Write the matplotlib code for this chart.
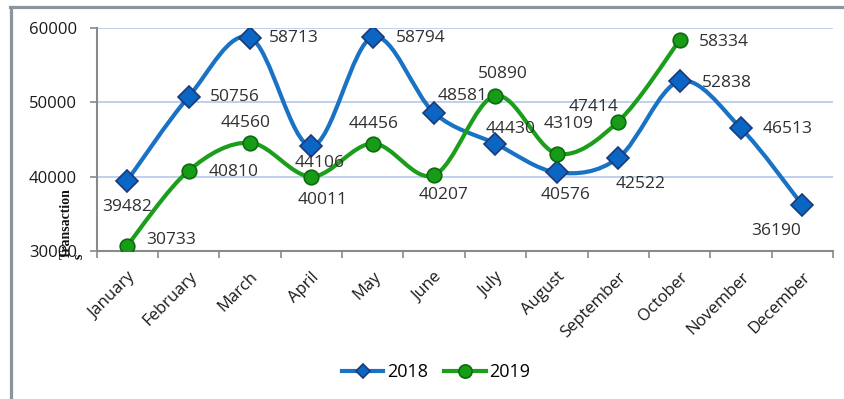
import matplotlib
matplotlib.use("Agg")
import matplotlib.pyplot as plt
import numpy as np
from matplotlib.path import Path
from matplotlib.patches import PathPatch
from matplotlib.lines import Line2D

# data
months = ["January", "February", "March", "April", "May", "June", "July",
          "August", "September", "October", "November", "December"]
tx2018 = [39482, 50756, 58713, 44106, 58794, 48581, 44430, 40576, 42522, 52838, 46513, 36190]
tx2019 = [30733, 40810, 44560, 40011, 44456, 40207, 50890, 43109, 47414, 58334]
y_ticks = [30000, 40000, 50000, 60000]

# label offsets in pixels (dx, dy) for each point
off2018 = [(0, -26), (46, 0), (44, 0), (8, -17), (48, -1), (29, 17), (15, 15),
           (9, -23), (22, -26), (47, -2), (47, -1), (-26, -26)]
off2019 = [(44, 6), (45, -1), (-4, 20), (11, -23), (1, 20), (9, -20), (7, 22),
           (12, 30), (-25, 15), (44, -2)]

BLUE = "#1a72c4"
BLUE_FILL = "#0a66c2"
BLUE_EDGE = "#1c3a78"
GREEN = "#1c9e1c"
GREEN_FILL = "#169c16"
GREEN_EDGE = "#0d6a0d"
FONT = "Open Sans"

W, H = 845, 399
fig = plt.figure(figsize=(W / 100, H / 100), dpi=100)
ax = fig.add_axes([96.6 / W, 1 - 251 / H, (833 - 96.6) / W, (251 - 28) / H])


def smooth_path(xs, ys):
    # catmull-rom style bezier like the spreadsheet "smoothed line"
    pts = np.column_stack([xs, ys]).astype(float)
    n = len(pts)
    verts = [pts[0]]
    codes = [Path.MOVETO]
    for i in range(n - 1):
        p0 = pts[i - 1] if i > 0 else pts[i]
        p1 = pts[i]
        p2 = pts[i + 1]
        p3 = pts[i + 2] if i + 2 < n else pts[i + 1]
        c1 = p1 + (p2 - p0) / 6.0
        c2 = p2 - (p3 - p1) / 6.0
        verts += [c1, c2, p2]
        codes += [Path.CURVE4] * 3
    return Path(verts, codes)


def draw_series(vals, color, fill, edge, marker, ms, offsets):
    xs = np.arange(len(vals))
    ax.add_patch(PathPatch(smooth_path(xs, vals), fill=False, edgecolor=color,
                           lw=3.0, capstyle="round", joinstyle="round", zorder=3))
    ax.plot(xs, vals, linestyle="none", marker=marker, ms=ms, mfc=fill,
            mec=edge, mew=1.2, zorder=4)
    for x, v, (dx, dy) in zip(xs, vals, offsets):
        ax.annotate(str(v), (x, v), xytext=(dx, dy), textcoords="offset pixels",
                    ha="center", va="center", fontsize=12.5, family=FONT,
                    color="#303030", zorder=5)


draw_series(tx2018, BLUE, BLUE_FILL, BLUE_EDGE, "D", 11, off2018)
draw_series(tx2019, GREEN, GREEN_FILL, GREEN_EDGE, "o", 10.5, off2019)

ax.set_xlim(-0.5, len(months) - 0.5)
ax.set_ylim(y_ticks[0], y_ticks[-1])
ax.set_yticks(y_ticks)
ax.set_yticklabels([str(t) for t in y_ticks], family=FONT, fontsize=12, color="#1a1a1a")
ax.tick_params(axis="y", length=5, width=1.2, color="#8a8a8a", pad=9)

ax.set_xticks(np.arange(len(months)))
ax.set_xticklabels(months, rotation=45, ha="right", va="top", rotation_mode="anchor",
                   family=FONT, fontsize=12, color="#1a1a1a")
ax.tick_params(axis="x", which="major", length=0, pad=13)
ax.set_xticks(np.arange(len(months) + 1) - 0.5, minor=True)
ax.tick_params(axis="x", which="minor", length=5, width=1.2, color="#8a8a8a")

ax.grid(axis="y", color="#b4c8ea", lw=1.2)
ax.set_axisbelow(True)
for s in ["top", "right"]:
    ax.spines[s].set_visible(False)
for s in ["left", "bottom"]:
    ax.spines[s].set_color("#8a8a8a")
    ax.spines[s].set_linewidth(1.5)

fig.text(60 / W, 1 - 259 / H, "Transaction\ns", rotation=90, ha="left", va="bottom",
         multialignment="left", family="Liberation Serif", fontweight="bold",
         fontsize=10, linespacing=1.0, color="#111111")

handles = [
    Line2D([], [], color=BLUE, lw=3, marker="D", ms=7, mfc=BLUE_FILL, mec=BLUE_EDGE, mew=1.2),
    Line2D([], [], color=GREEN, lw=3, marker="o", ms=9.5, mfc=GREEN_FILL, mec=GREEN_EDGE, mew=1.2),
]
fig.legend(handles, ["2018", "2019"], loc="center", bbox_to_anchor=(436 / W, 1 - 372 / H),
           ncol=2, frameon=False, handlelength=2.3, handletextpad=0.2, columnspacing=0.9,
           prop={"family": FONT, "size": 13})

# grey frame of the chart box (left and top edges)
fig.add_artist(Line2D([11.5 / W, 11.5 / W], [0, 1 - 6.5 / H], transform=fig.transFigure,
                      color="#8c959f", lw=2.3))
fig.add_artist(Line2D([10 / W, 1], [1 - 6.5 / H, 1 - 6.5 / H], transform=fig.transFigure,
                      color="#8c959f", lw=2.3))

fig.savefig("out.png", dpi=100)
